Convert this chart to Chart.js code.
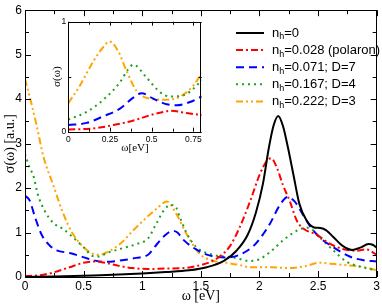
<!DOCTYPE html>
<html>
<head>
<meta charset="utf-8">
<script src="https://cdn.jsdelivr.net/npm/chart.js@4"></script>
<style>
  body { margin: 0; background: #fff; }
  #wrap { position: relative; width: 382px; height: 305px; }
  #main { position: absolute; left: 0; top: 0; }
  #inset { position: absolute; left: 40px; top: 12px; }
</style>
</head>
<body>
<div id="wrap">
  <canvas id="main" width="382" height="305"></canvas>
  <canvas id="inset" width="170" height="145"></canvas>
</div>
<script>
// series labels and styles
const seriesLabels = ['n_h=0', 'n_h=0.028 (polaron)', 'n_h=0.071; D=7', 'n_h=0.167; D=4', 'n_h=0.222; D=3'];
const seriesColors = ['#000000', '#ff0000', '#0000ff', '#1fa01f', '#ffa500'];
const seriesDash = [[], [7, 3, 2, 3], [8, 5], [2, 4], [7, 3, 2, 3, 2, 3]];

// main plot: omega [eV] and sigma [a.u.]
const blackX = [0, 0.25, 0.5, 0.75, 1.0, 1.2, 1.4, 1.55, 1.7, 1.8, 1.9, 1.97, 2.03, 2.08, 2.12, 2.16, 2.2, 2.24, 2.29, 2.34, 2.4, 2.46, 2.52, 2.57, 2.63, 2.71, 2.79, 2.86, 2.93, 2.97, 3.0];
const blackY = [0, 0.01, 0.03, 0.05, 0.08, 0.11, 0.15, 0.22, 0.37, 0.58, 0.95, 1.45, 2.1, 2.9, 3.4, 3.62, 3.4, 2.95, 2.3, 1.65, 1.28, 1.12, 1.1, 1.05, 0.9, 0.7, 0.61, 0.66, 0.74, 0.72, 0.66];

const redX = [0, 0.13, 0.24, 0.38, 0.5, 0.6, 0.7, 0.8, 0.92, 1.05, 1.2, 1.35, 1.5, 1.6, 1.68, 1.75, 1.83, 1.92, 2.0, 2.06, 2.1, 2.15, 2.2, 2.26, 2.32, 2.38, 2.49, 2.6, 2.71, 2.83, 2.91, 3.0];
const redY = [0.02, 0.04, 0.1, 0.22, 0.32, 0.35, 0.31, 0.25, 0.2, 0.18, 0.19, 0.2, 0.27, 0.36, 0.5, 0.7, 1.11, 1.7, 2.29, 2.6, 2.67, 2.45, 2.07, 1.7, 1.26, 1.08, 0.95, 0.75, 0.63, 0.59, 0.62, 0.5];

const blueX = [0, 0.04, 0.085, 0.14, 0.21, 0.27, 0.38, 0.47, 0.58, 0.67, 0.81, 0.95, 1.05, 1.12, 1.2, 1.26, 1.3, 1.35, 1.46, 1.58, 1.72, 1.83, 1.95, 2.02, 2.09, 2.17, 2.24, 2.3, 2.36, 2.43, 2.51, 2.63, 2.77, 2.88, 3.0];
const blueY = [1.83, 1.72, 1.35, 0.96, 0.71, 0.6, 0.54, 0.47, 0.38, 0.34, 0.37, 0.43, 0.5, 0.72, 0.95, 1.04, 1.0, 0.84, 0.62, 0.48, 0.44, 0.5, 0.7, 0.92, 1.2, 1.6, 1.8, 1.7, 1.45, 1.15, 0.9, 0.67, 0.46, 0.38, 0.35];

const greenX = [0, 0.04, 0.07, 0.11, 0.17, 0.24, 0.33, 0.41, 0.5, 0.58, 0.63, 0.7, 0.81, 0.95, 1.05, 1.12, 1.18, 1.24, 1.28, 1.32, 1.38, 1.46, 1.6, 1.78, 1.92, 2.0, 2.09, 2.2, 2.34, 2.42, 2.51, 2.63, 2.74, 2.86, 3.0];
const greenY = [2.77, 2.45, 2.29, 1.85, 1.48, 1.22, 1.07, 0.89, 0.67, 0.47, 0.46, 0.54, 0.63, 0.74, 0.87, 1.2, 1.48, 1.62, 1.6, 1.35, 0.98, 0.68, 0.5, 0.44, 0.36, 0.4, 0.56, 0.82, 1.07, 1.11, 0.9, 0.6, 0.35, 0.23, 0.15];

const orangeX = [0, 0.05, 0.1, 0.156, 0.24, 0.33, 0.41, 0.5, 0.58, 0.64, 0.7, 0.81, 0.92, 1.05, 1.13, 1.21, 1.29, 1.38, 1.49, 1.6, 1.72, 1.83, 1.92, 2.1, 2.26, 2.4, 2.51, 2.6, 2.77, 2.9, 3.0];
const orangeY = [4.45, 3.95, 3.4, 2.72, 2.07, 1.4, 0.96, 0.67, 0.52, 0.5, 0.56, 0.74, 1.04, 1.37, 1.55, 1.7, 1.42, 0.96, 0.52, 0.37, 0.32, 0.27, 0.22, 0.22, 0.2, 0.25, 0.32, 0.3, 0.26, 0.22, 0.15];

// inset: omega [eV] and sigma
const insetRedX = [0, 0.15, 0.27, 0.41, 0.49, 0.57, 0.61, 0.71, 0.8];
const insetRedY = [0.02, 0.03, 0.06, 0.11, 0.15, 0.18, 0.19, 0.17, 0.15];
const insetBlueX = [0, 0.11, 0.21, 0.31, 0.39, 0.44, 0.51, 0.59, 0.65, 0.73, 0.8];
const insetBlueY = [0.06, 0.08, 0.14, 0.21, 0.31, 0.35, 0.3, 0.25, 0.24, 0.27, 0.32];
const insetGreenX = [0, 0.11, 0.21, 0.31, 0.36, 0.39, 0.47, 0.55, 0.61, 0.69, 0.75, 0.8];
const insetGreenY = [0.11, 0.18, 0.29, 0.45, 0.57, 0.61, 0.49, 0.36, 0.32, 0.33, 0.39, 0.47];
const insetOrangeX = [0, 0.07, 0.15, 0.21, 0.246, 0.3, 0.35, 0.41, 0.49, 0.59, 0.67, 0.75, 0.8];
const insetOrangeY = [0.26, 0.42, 0.64, 0.77, 0.82, 0.73, 0.55, 0.37, 0.3, 0.29, 0.32, 0.42, 0.53];

const SANS = '"Liberation Sans", Arial, sans-serif';
const SERIF = '"Liberation Serif", "Times New Roman", serif';

function points(xs, ys) {
  return xs.map((x, i) => ({ x: x, y: ys[i] }));
}

function makeDataset(i, xs, ys) {
  return {
    label: seriesLabels[i],
    data: points(xs, ys),
    borderColor: seriesColors[i],
    borderWidth: 2,
    borderDash: seriesDash[i],
    pointRadius: 0,
    fill: false,
    cubicInterpolationMode: 'monotone'
  };
}

// frame + inward ticks on all four sides (xmgrace look)
function frameTicks(id, xMinor, yMinor, majorLen, minorLen, whiteBg) {
  return {
    id: id,
    beforeDatasetsDraw(chart) {
      if (!whiteBg) return;
      const a = chart.chartArea;
      chart.ctx.save();
      chart.ctx.fillStyle = '#fff';
      chart.ctx.fillRect(a.left, a.top, a.right - a.left, a.bottom - a.top);
      chart.ctx.restore();
    },
    afterDatasetsDraw(chart) {
      const ctx = chart.ctx;
      const a = chart.chartArea;
      const sx = chart.scales.x, sy = chart.scales.y;
      const isMajor = (scale, v) => scale.ticks.some(t => Math.abs(t.value - v) < 1e-6);
      ctx.save();
      ctx.strokeStyle = '#000';
      ctx.lineWidth = 1;
      ctx.beginPath();
      for (let v = sx.min; v <= sx.max + 1e-9; v += xMinor) {
        const px = Math.round(sx.getPixelForValue(v)) + 0.5;
        const len = isMajor(sx, v) ? majorLen : minorLen;
        ctx.moveTo(px, a.bottom); ctx.lineTo(px, a.bottom - len);
        ctx.moveTo(px, a.top); ctx.lineTo(px, a.top + len);
      }
      for (let v = sy.min; v <= sy.max + 1e-9; v += yMinor) {
        const py = Math.round(sy.getPixelForValue(v)) + 0.5;
        const len = isMajor(sy, v) ? majorLen : minorLen;
        ctx.moveTo(a.left, py); ctx.lineTo(a.left + len, py);
        ctx.moveTo(a.right, py); ctx.lineTo(a.right - len, py);
      }
      ctx.stroke();
      ctx.strokeRect(Math.round(a.left) + 0.5, Math.round(a.top) + 0.5,
        Math.round(a.right - a.left) - 1, Math.round(a.bottom - a.top));
      ctx.restore();
    }
  };
}

// legend with subscript h
const legendPlugin = {
  id: 'subLegend',
  afterDraw(chart) {
    const ctx = chart.ctx;
    chart.data.datasets.forEach((ds, i) => {
      const y = 33 + i * 17.1;
      ctx.save();
      ctx.strokeStyle = ds.borderColor;
      ctx.lineWidth = 2;
      ctx.setLineDash(ds.borderDash);
      ctx.beginPath();
      ctx.moveTo(236, y);
      ctx.lineTo(264, y);
      ctx.stroke();
      ctx.setLineDash([]);
      ctx.fillStyle = '#000';
      ctx.textBaseline = 'middle';
      const parts = ds.label.split('_');
      let x = 272;
      ctx.font = '13px ' + SANS;
      ctx.fillText(parts[0], x, y);
      x += ctx.measureText(parts[0]).width;
      ctx.font = '9px ' + SANS;
      ctx.fillText(parts[1][0], x, y + 4);
      x += ctx.measureText(parts[1][0]).width;
      ctx.font = '13px ' + SANS;
      ctx.fillText(parts[1].slice(1), x, y);
      ctx.restore();
    });
  }
};

const mainChart = new Chart(document.getElementById('main'), {
  type: 'line',
  data: {
    datasets: [
      makeDataset(0, blackX, blackY),
      makeDataset(1, redX, redY),
      makeDataset(2, blueX, blueY),
      makeDataset(3, greenX, greenY),
      makeDataset(4, orangeX, orangeY)
    ]
  },
  options: {
    responsive: false,
    animation: false,
    devicePixelRatio: 1,
    layout: { padding: { left: 0, top: 5, right: 4, bottom: 0 } },
    plugins: { legend: { display: false }, tooltip: { enabled: false } },
    scales: {
      x: {
        type: 'linear', min: 0, max: 3,
        grid: { display: false, drawTicks: false }, border: { display: false },
        ticks: { stepSize: 0.5, color: '#000', padding: 2, maxRotation: 0,
          font: { family: SANS, size: 12 }, callback: v => String(v) },
        title: { display: true, text: 'ω [eV]', color: '#000', padding: { top: 0, bottom: 0 },
          font: { family: SERIF, size: 14 } },
        afterFit(s) { s.height = 28; }
      },
      y: {
        type: 'linear', min: 0, max: 6,
        grid: { display: false, drawTicks: false }, border: { display: false },
        ticks: { stepSize: 1, color: '#000', padding: 3,
          font: { family: SANS, size: 12 }, callback: v => String(v) },
        title: { display: true, text: 'σ(ω) [a.u.]', color: '#000', padding: { top: 1.6, bottom: 0 },
          font: { family: SERIF, size: 14 } },
        afterFit(s) { s.width = 25; }
      }
    }
  },
  plugins: [frameTicks('mainFrame', 0.25, 0.5, 6, 4, false), legendPlugin]
});

const insetChart = new Chart(document.getElementById('inset'), {
  type: 'line',
  data: {
    datasets: [
      makeDataset(1, insetRedX, insetRedY),
      makeDataset(2, insetBlueX, insetBlueY),
      makeDataset(3, insetGreenX, insetGreenY),
      makeDataset(4, insetOrangeX, insetOrangeY)
    ]
  },
  options: {
    responsive: false,
    animation: false,
    devicePixelRatio: 1,
    layout: { padding: { left: 0, top: 9.7, right: 8.3, bottom: 0 } },
    plugins: { legend: { display: false }, tooltip: { enabled: false } },
    scales: {
      x: {
        type: 'linear', min: 0, max: 0.8,
        grid: { display: false, drawTicks: false }, border: { display: false },
        ticks: { stepSize: 0.25, includeBounds: false, color: '#000', padding: 3, maxRotation: 0,
          font: { family: SANS, size: 8.5 }, callback: v => String(v) },
        title: { display: true, text: 'ω[eV]', color: '#000', padding: { top: 0, bottom: 1.9 },
          font: { family: SERIF, size: 11 } },
        afterFit(s) { s.height = 25.3; }
      },
      y: {
        type: 'linear', min: 0, max: 1,
        grid: { display: false, drawTicks: false }, border: { display: false },
        ticks: { stepSize: 1, color: '#000', padding: 2,
          font: { family: SANS, size: 8.5 }, callback: v => String(v) },
        title: { display: true, text: 'σ(ω)', color: '#000', padding: { top: 10.4, bottom: 0 },
          font: { family: SERIF, size: 11 } },
        afterFit(s) { s.width = 28.3; }
      }
    }
  },
  plugins: [frameTicks('insetFrame', 0.125, 0.5, 4, 3, true)]
});
</script>
</body>
</html>
